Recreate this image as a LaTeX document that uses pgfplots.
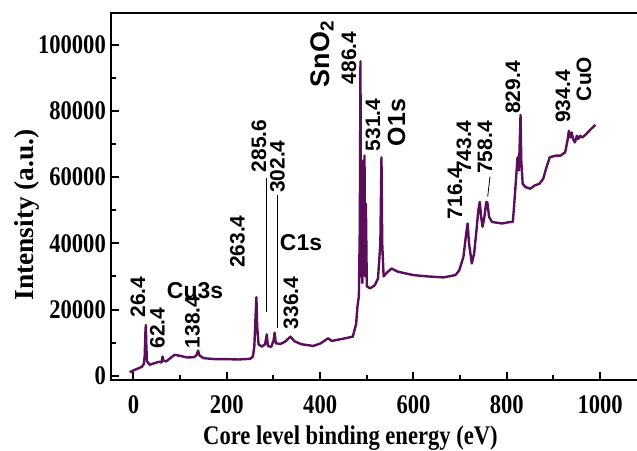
\documentclass[border=0pt]{standalone}
\usepackage{fontspec}
\setmainfont{Liberation Serif}
\newfontfamily\lab[FakeStretch=0.84]{Liberation Serif}
\newfontfamily\ann{Liberation Sans}
\usepackage{pgfplots}
\pgfplotsset{compat=1.18}
\definecolor{curve}{RGB}{90,15,90}
\pgfplotstableread{
E I
-8 1000
-5 1300
0 1600
10 2200
18 2700
22 3500
24 6000
25.5 13000
26.4 15300
27.5 9000
29 4300
35 3300
45 3800
55 4200
60 4000
62.4 5800
64 4600
70 4300
78 5200
88 6300
100 6000
115 5500
130 5600
135 6200
138.4 7600
141 6200
150 5300
175 5000
200 5000
225 4900
250 5100
256 5800
259 9000
261 16000
263.4 23700
265 15000
268 9500
275 8800
282 9500
285.6 12500
288 9000
295 8700
300 10500
302.4 13000
305 9800
315 9600
325 10300
336.4 11800
345 10400
360 9500
385 9000
400 9700
417 11300
425 10500
450 11200
470 11800
474 14000
477 15500
480 21000
483 24000
485 45000
486.4 95000
487.5 30000
489 55000
490.5 28000
492 65000
493.5 35000
495 66500
496.5 30000
498 52000
500 27000
507 26400
517 27300
524 29400
529 40000
531.4 66000
533 40000
536 30000
542 31000
553 32400
565 31500
580 31000
600 30400
630 30000
664 29700
690 30400
698 31800
707 35900
713 43000
716 46000
719 40000
725 33900
730 37000
735 44000
739 50000
742 52500
745 48000
748 45000
752 48000
756 52500
758.4 52300
762 48000
768 46500
775 46300
790 46000
805 46400
813 46500
817 54000
820 60000
823 66000
826 62000
829.4 78800
831 65000
834 58000
840 57000
850 56500
860 57500
870 58000
878 59500
885 63000
892 66000
905 66500
915 66500
925 67500
930 71000
933 74000
936 72000
939 73500
942 71500
946 70500
950 72500
953 71500
957 72500
962 72000
970 73000
980 74500
990 75800
}\spectrum
\begin{document}
\begin{tikzpicture}
\useasboundingbox (0,0) rectangle (637bp,451bp);
\begin{axis}[
  at={(111bp,71bp)}, anchor=south west,
  scale only axis, width=540bp, height=367bp,
  xmin=-48.2, xmax=1109, ymin=-1300, ymax=109600,
  xtick={0,200,...,1000}, minor xtick={100,300,...,900},
  ytick={0,20000,...,100000}, minor ytick={10000,30000,...,90000},
  tick pos=left, tick align=inside,
  major tick length=8bp, minor tick length=5bp,
  every tick/.style={black, line width=2bp},
  axis line style={line width=2.8bp},
  scaled y ticks=false, scaled x ticks=false,
  /pgf/number format/fixed,
  /pgf/number format/assume math mode=true,
  /pgf/number format/1000 sep={},
  ticklabel style={font=\lab\bfseries\fontsize{27}{27}\selectfont, inner sep=0pt},
  yticklabel style={xshift=-5bp},
  xticklabel style={yshift=-15bp},
]
\addplot[curve, line width=2.4bp, line join=round] table[x=E,y=I] {\spectrum};
\end{axis}
\begin{scope}[x=1bp,y=-1bp,yshift=451bp]
  \node[font=\lab\bfseries\fontsize{27}{27}\selectfont, anchor=base, inner sep=0pt] at (350.5,445) {Core level binding energy (eV)};
  \node[font=\bfseries\fontsize{27.5}{27.5}\selectfont, anchor=base, rotate=90, inner sep=0pt] at (33,215) {Intensity (a.u.)};
  \draw[line width=0.8bp] (266.7,178) -- (266.7,311.7);
  \draw[line width=0.8bp] (277.3,195) -- (277.3,328.3);
  \draw[line width=0.8bp] (490,176.7) -- (487.7,196.7);
  \begin{scope}[every node/.style={inner sep=0pt, rotate=90, font=\ann\bfseries\fontsize{21}{21}\selectfont}]
    \node at (138,297) {26.4};
    \node at (157.5,328) {62.4};
    \node at (192.5,322) {138.4};
    \node at (237.5,241.7) {263.4};
    \node at (259,146) {285.6};
    \node at (277.5,166.7) {302.4};
    \node at (291,303) {336.4};
    \node at (349,58) {486.4};
    \node at (373,125) {531.4};
    \node at (455,193) {716.4};
    \node at (464,146.7) {743.4};
    \node at (485,147.5) {758.4};
    \node at (513,87.5) {829.4};
    \node at (563,96.5) {934.4};
    \node[font=\ann\bfseries\fontsize{21}{21}\selectfont] at (584,79) {CuO};
    \node[font=\ann\bfseries\fontsize{25}{25}\selectfont] at (396.5,122.5) {O1s};
    \node[font=\ann\bfseries\fontsize{27}{27}\selectfont] at (322,54) {SnO\textsubscript{2}};
  \end{scope}
  \node[inner sep=0pt, font=\ann\bfseries\fontsize{23}{23}\selectfont] at (195,291) {Cu3s};
  \node[inner sep=0pt, font=\ann\bfseries\fontsize{23}{23}\selectfont] at (301,242.5) {C1s};
\end{scope}
\end{tikzpicture}
\end{document}
